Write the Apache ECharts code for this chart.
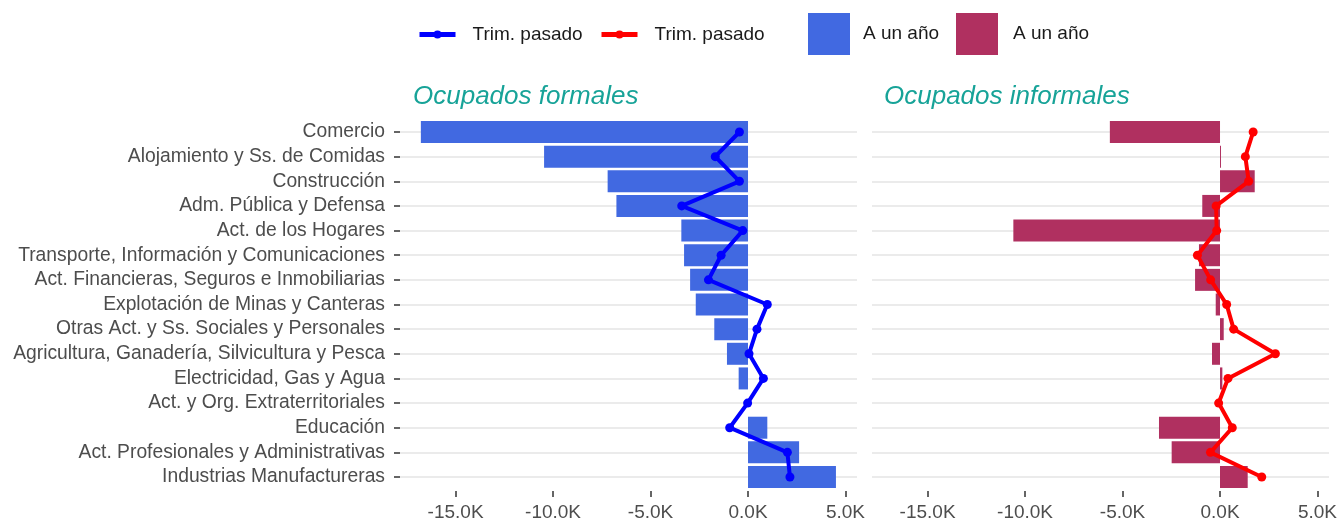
<!DOCTYPE html>
<html>
<head>
<meta charset="utf-8">
<script src="https://cdn.jsdelivr.net/npm/echarts@6/dist/echarts.min.js"></script>
<style>
html,body{margin:0;padding:0;background:#fff;}
#chart{width:1339px;height:522px;}
</style>
</head>
<body>
<div id="chart"></div>
<script>
// ---- data ----
const categories = [
  "Comercio",
  "Alojamiento y Ss. de Comidas",
  "Construcción",
  "Adm. Pública y Defensa",
  "Act. de los Hogares",
  "Transporte, Información y Comunicaciones",
  "Act. Financieras, Seguros e Inmobiliarias",
  "Explotación de Minas y Canteras",
  "Otras Act. y Ss. Sociales y Personales",
  "Agricultura, Ganadería, Silvicultura y Pesca",
  "Electricidad, Gas y Agua",
  "Act. y Org. Extraterritoriales",
  "Educación",
  "Act. Profesionales y Administrativas",
  "Industrias Manufactureras"
];
const formalYear     = [-16780,-10460,-7200,-6750,-3420,-3280,-2970,-2680,-1730,-1080,-480,0,990,2620,4510];
const formalQuarter  = [-440,-1680,-440,-3400,-270,-1380,-2030,990,460,50,790,-20,-940,2020,2150];
const informalYear   = [-5650,50,1780,-910,-10600,-1080,-1280,-220,190,-410,120,0,-3130,-2480,1420];
const informalQuarter= [1700,1300,1470,-200,-170,-1160,-480,340,700,2840,410,-70,630,-490,2140];
const xTicks = [-15000,-10000,-5000,0,5000];
const panelTitles = ["Ocupados formales","Ocupados informales"];
const seriesNames = {
  fq: "Trim. pasado (formales)",
  iq: "Trim. pasado (informales)",
  fy: "A un año (formales)",
  iy: "A un año (informales)"
};
const seriesLabels = {};
seriesLabels[seriesNames.fq] = "Trim. pasado";
seriesLabels[seriesNames.iq] = "Trim. pasado";
seriesLabels[seriesNames.fy] = "A un año";
seriesLabels[seriesNames.iy] = "A un año";

// ---- chart ----
const FONT = "Liberation Sans, Arial, sans-serif";
const FS = 19;
const XMIN = -17850, XMAX = 5590;
const fmtK = v => (v/1000).toFixed(1) + "K";
const legendFmt = n => seriesLabels[n] || n;

function xAxisCfg(gridIndex){
  return {
    type: 'value', gridIndex, min: XMIN, max: XMAX, offset: 14,
    axisLine: {show: false, onZero: false},
    splitLine: {show: false},
    axisTick: {show: true, length: 6, lineStyle: {color: '#333', width: 1.5}, customValues: xTicks},
    axisLabel: {show: true, margin: 12, color: '#4d4d4d', fontSize: FS, fontFamily: FONT,
                customValues: xTicks, formatter: fmtK}
  };
}
function yAxisCfg(gridIndex, showLabels){
  return {
    type: 'category', gridIndex, data: categories, inverse: true, boundaryGap: false,
    axisLine: {show: false, onZero: false},
    axisTick: {show: showLabels, length: 6, interval: 0, lineStyle: {color: '#333', width: 1.5}},
    axisLabel: {show: showLabels, interval: 0, margin: 15, color: '#4d4d4d', fontSize: 19.3, fontFamily: FONT},
    splitLine: {show: true, interval: 0, lineStyle: {color: '#ebebeb', width: 2}}
  };
}

const legendText = pad => ({color: '#1a1a1a', fontSize: FS, fontFamily: FONT, padding: [0,0,0,pad]});

const chart = echarts.init(document.getElementById('chart'), null, {renderer: 'canvas'});
const option = {
  animation: false,
  backgroundColor: '#ffffff',
  textStyle: {fontFamily: FONT},
  title: [
    {text: panelTitles[0], left: 408, top: 79,
     textStyle: {color: '#17a398', fontSize: 26, fontStyle: 'italic', fontWeight: 'normal', fontFamily: FONT}},
    {text: panelTitles[1], left: 879, top: 79,
     textStyle: {color: '#17a398', fontSize: 26, fontStyle: 'italic', fontWeight: 'normal', fontFamily: FONT}}
  ],
  legend: [
    {data: [seriesNames.fq], left: 417, top: 25, padding: 0, itemWidth: 36, itemHeight: 10, formatter: legendFmt,
     lineStyle: {width: 5}, textStyle: legendText(12)},
    {data: [seriesNames.iq], left: 599, top: 25, padding: 0, itemWidth: 36, itemHeight: 10, formatter: legendFmt,
     lineStyle: {width: 5}, textStyle: legendText(12)},
    {data: [{name: seriesNames.fy, icon: 'rect'}], left: 808, top: 13, padding: 0, itemWidth: 42, itemHeight: 42, formatter: legendFmt,
     textStyle: legendText(8)},
    {data: [{name: seriesNames.iy, icon: 'rect'}], left: 956, top: 13, padding: 0, itemWidth: 42, itemHeight: 42, formatter: legendFmt,
     textStyle: legendText(10)}
  ],
  grid: [
    {left: 400, top: 132, width: 457, height: 345, containLabel: false, outerBoundsMode: 'none'},
    {left: 872, top: 132, width: 457, height: 345, containLabel: false, outerBoundsMode: 'none'}
  ],
  xAxis: [xAxisCfg(0), xAxisCfg(1)],
  yAxis: [yAxisCfg(0, true), yAxisCfg(1, false)],
  series: [
    {name: seriesNames.fy, type: 'bar', xAxisIndex: 0, yAxisIndex: 0, data: formalYear,
     barWidth: 22, clip: false, itemStyle: {color: '#4169E1'}, z: 2},
    {name: seriesNames.iy, type: 'bar', xAxisIndex: 1, yAxisIndex: 1, data: informalYear,
     barWidth: 22, clip: false, itemStyle: {color: '#B03060'}, z: 2},
    {name: seriesNames.fq, type: 'line', xAxisIndex: 0, yAxisIndex: 0, data: formalQuarter,
     clip: false, symbol: 'circle', symbolSize: 9, showAllSymbol: true,
     lineStyle: {color: '#0000FF', width: 4}, itemStyle: {color: '#0000FF'}, z: 3},
    {name: seriesNames.iq, type: 'line', xAxisIndex: 1, yAxisIndex: 1, data: informalQuarter,
     clip: false, symbol: 'circle', symbolSize: 9, showAllSymbol: true,
     lineStyle: {color: '#FF0000', width: 4}, itemStyle: {color: '#FF0000'}, z: 3}
  ]
};
chart.setOption(option);
</script>
</body>
</html>
